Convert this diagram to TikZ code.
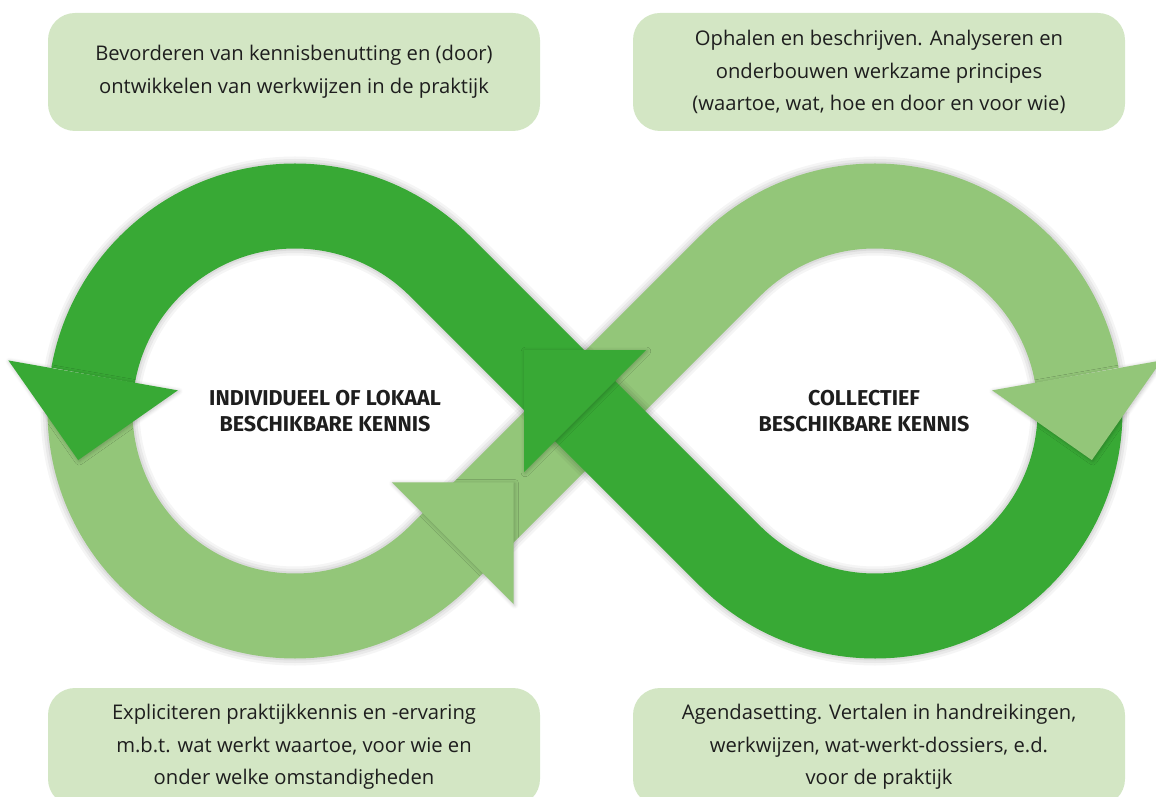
\documentclass[tikz,border=0pt]{standalone}
\usepackage{fontspec}
\setmainfont{Open Sans}
\newfontfamily\capsfont{Fira Sans}
\usetikzlibrary{calc,shadows,shadows.blur}
\definecolor{darkleaf}{HTML}{38A935}
\definecolor{lightleaf}{HTML}{93C679}
\definecolor{boxleaf}{HTML}{D3E6C4}
\definecolor{inktext}{HTML}{1E1E1E}

\begin{document}
\begin{tikzpicture}
[
	x=1pt, y=1pt,
	tip/.style = {fill=#1, blur shadow={shadow xshift=1pt, shadow yshift=-1pt, shadow blur radius=4pt, shadow blur steps=6, shadow opacity=25}},
	textbox/.style = {fill=boxleaf, rounded corners=27pt, minimum width=492pt, minimum height=118pt, align=center, text=inktext, font=\fontsize{20.2}{32.5}\selectfont},
	loopname/.style = {align=center, text=inktext, font=\capsfont\bfseries\fontsize{21.5}{26}\selectfont},
]
\clip (0,0) rectangle (1156,796);

% centres of the two loops and the crossing
\coordinate (Cl) at (295,385);
\coordinate (Cr) at (875,385);
\coordinate (O) at (585,385);
\coordinate (bl) at ($(Cl)+(170:205)$);
\coordinate (br) at ($(Cr)+(10:205)$);
\coordinate (bm) at ($(O)+(225:187)$);

% light band: left loop bottom, diagonal, right loop top
\foreach \w/\c/\o in {99/black/0.04, 94/black/0.05, 89/black/0.06, 85/lightleaf/1}
\draw[line width=\w pt, draw=\c, opacity=\o] ($(Cl)+(180:205)$) arc[start angle=180, end angle=315, radius=205]
	-- ($(Cr)+(135:205)$) arc[start angle=135, end angle=10, radius=205];
\fill[tip=lightleaf] ($(bm)+(135:86)$) -- ($(bm)+(45:86)$) -- ($(bm)+(-45:86)$) -- cycle;

% dark band: crossing to left loop top
\foreach \w/\c/\o in {99/black/0.04, 94/black/0.05, 89/black/0.06, 85/darkleaf/1}
\draw[line width=\w pt, draw=\c, opacity=\o] (O) -- ($(Cl)+(45:205)$) arc[start angle=45, end angle=170, radius=205];
\fill[tip=darkleaf] ($(bl)+(170:86)$) -- ($(bl)+(260:86)$) -- ($(bl)+(350:86)$) -- cycle;

% dark band: right loop bottom to crossing
\foreach \w/\c/\o in {99/black/0.04, 94/black/0.05, 89/black/0.06, 85/darkleaf/1}
\draw[line width=\w pt, draw=\c, opacity=\o] ($(Cr)+(0:205)$) arc[start angle=0, end angle=-135, radius=205] -- (O);
\fill[tip=darkleaf] ($(O)+(45:86)$) -- ($(O)+(135:86)$) -- ($(O)+(225:86)$) -- cycle;
\fill[tip=lightleaf] ($(br)+(10:86)$) -- ($(br)+(-80:86)$) -- ($(br)+(190:86)$) -- cycle;

\node[loopname] (local) at (325,385) {INDIVIDUEEL OF LOKAAL\\BESCHIKBARE KENNIS};
\node[loopname] (shared) at (864,385) {COLLECTIEF\\BESCHIKBARE KENNIS};

\node[textbox] (promote) at (294,724) {Bevorderen van kennisbenutting en (door)\\ontwikkelen van werkwijzen in de praktijk};
\node[textbox] (collect) at (879,724) {Ophalen en beschrijven. Analyseren en\\onderbouwen werkzame principes\\(waartoe, wat, hoe en door en voor wie)};
\node[textbox] (explicit) at (294,49) {Expliciteren praktijkkennis en -ervaring\\m.b.t. wat werkt waartoe, voor wie en\\onder welke omstandigheden};
\node[textbox] (agenda) at (879,49) {Agendasetting. Vertalen in handreikingen,\\werkwijzen, wat-werkt-dossiers, e.d.\\voor de praktijk};
\end{tikzpicture}
\end{document}
